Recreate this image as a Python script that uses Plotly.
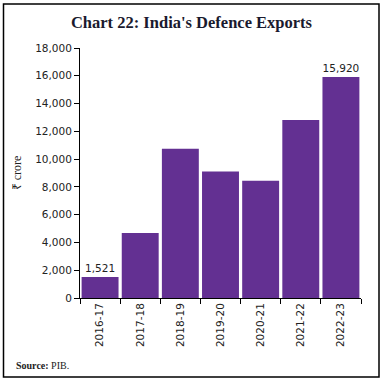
import plotly.graph_objects as go

years = ["2016-17", "2017-18", "2018-19", "2019-20", "2020-21", "2021-22", "2022-23"]
exports = [1521, 4682, 10746, 9116, 8434, 12815, 15920]
labels = ["1,521", "", "", "", "", "", "15,920"]

W, H = 383, 382
L, R, T, B = 80, 22, 48, 84
pw, ph = W - L - R, H - T - B

def px_x(x):
    return (x - L) / pw

def px_y(y):
    return (H - B - y) / ph

fig = go.Figure()
fig.add_trace(go.Bar(
    x=years, y=exports, text=labels, textposition="outside",
    textfont=dict(family="DejaVu Sans", size=10.5, color="#222"),
    marker=dict(color="#633092", line=dict(width=0)),
    width=0.92, cliponaxis=False, hoverinfo="skip",
))

fig.update_layout(
    width=W, height=H,
    margin=dict(l=L, r=R, t=T, b=B, autoexpand=False),
    paper_bgcolor="white", plot_bgcolor="white",
    showlegend=False,
    title=dict(text="<b>Chart 22: India's Defence Exports</b>", x=0.5, xref="container",
               xanchor="center", y=1 - 22 / H, yref="container", yanchor="middle",
               font=dict(family="Liberation Serif", size=16.5, color="#1a1a2e")),
    font=dict(family="DejaVu Sans", size=10.5, color="#222"),
)
fig.update_yaxes(range=[0, 18000], dtick=2000, tickformat=",", showline=True,
                 linecolor="black", linewidth=1, ticks="outside", ticklen=5,
                 tickcolor="black", showgrid=False, zeroline=False, automargin=False,
                 tickfont=dict(family="DejaVu Sans", size=10.5, color="#222"),
                 title=dict(text="₹ crore", standoff=10,
                            font=dict(family="Liberation Serif", size=12, color="#222")))
fig.update_xaxes(showline=True, linecolor="black", linewidth=1, ticks="outside",
                 ticklen=5, tickcolor="black", tickson="boundaries", tickangle=-90,
                 showgrid=False, automargin=False,
                 tickfont=dict(family="DejaVu Sans", size=10.5, color="#222"))

fig.add_shape(type="rect", xref="paper", yref="paper",
              x0=px_x(3.5), x1=px_x(379), y0=px_y(377), y1=px_y(4),
              line=dict(color="black", width=1.5), fillcolor="rgba(0,0,0,0)")

fig.add_annotation(text="<b>Source:</b> PIB.", xref="paper", yref="paper",
                   x=px_x(14), y=px_y(365), xanchor="left", yanchor="middle",
                   showarrow=False,
                   font=dict(family="Liberation Serif", size=10, color="#222"))

fig.write_html("out.html", config={"displayModeBar": False},
               post_script="document.body.style.margin='0';document.body.style.overflow='hidden';")
